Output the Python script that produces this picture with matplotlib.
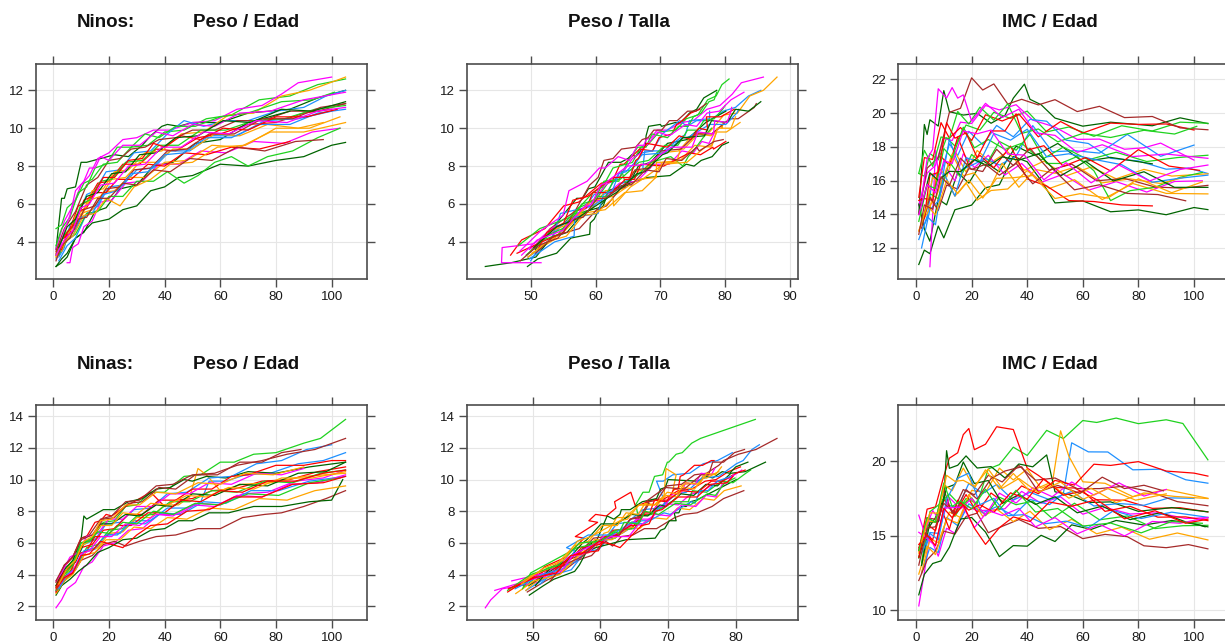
import numpy as np
import matplotlib
matplotlib.use("Agg")
import matplotlib.pyplot as plt

plt.rcParams['font.family'] = ['Liberation Sans', 'DejaVu Sans']

# colores de las curvas
VERDE = '#1fd21f'
MAGENTA = '#ff00ff'
AZUL = '#1e90ff'
ROJO = '#ff0000'
NARANJA = '#ffa500'
VERDE_OSC = '#006400'
MARRON = '#a52a2a'

# ---------------- Ninos: edad (semanas), peso (kg), talla (cm) ----------------
ninos_edad = [
    [1, 3, 4, 5, 8, 10, 12, 17, 22, 27, 32, 35, 39, 41, 45, 50, 60, 70, 85, 95, 105],
    [1, 3, 5, 8, 11, 14, 18, 23, 28, 34, 40, 47, 55, 64, 74, 85, 95, 105],
    [1, 4, 7, 10, 13, 16, 20, 25, 30, 36, 42, 50, 58, 66, 75, 82, 88, 100],
    [2, 4, 6, 9, 12, 15, 19, 24, 29, 35, 41, 47, 54, 62, 70, 80, 90, 98, 105],
    [1, 3, 6, 9, 12, 16, 20, 25, 31, 37, 44, 52, 60, 70, 80, 90, 100],
    [2, 5, 8, 11, 14, 18, 22, 27, 33, 39, 46, 54, 63, 72, 82, 92, 105],
    [1, 3, 5, 8, 10, 14, 20, 25, 30, 35, 40, 45, 50, 60, 70, 80, 90, 100, 105],
    [1, 4, 8, 12, 16, 20, 24, 28, 33, 38, 44, 50, 58, 66, 75, 85, 95, 105],
    [1, 3, 5, 8, 11, 15, 19, 24, 30, 36, 43, 51, 60, 70, 85],
    [5, 6, 7, 9, 11, 14, 17, 21, 26, 32, 38, 45, 53, 62, 72, 83, 93, 103],
    [2, 5, 8, 12, 16, 20, 25, 30, 36, 42, 49, 57, 66, 76, 88, 100],
    [1, 4, 7, 10, 14, 18, 22, 27, 33, 40, 48, 57, 67, 78, 90, 105],
    [2, 5, 8, 12, 16, 20, 25, 30, 36, 41, 47, 52, 58, 64, 70, 77, 86, 95, 103],
    [1, 3, 6, 9, 12, 15, 19, 23, 28, 34, 40, 47, 55, 64, 74, 85],
    [3, 6, 9, 13, 17, 21, 26, 31, 37, 43, 50, 58, 67, 77, 88, 97],
    [1, 4, 7, 10, 13, 17, 21, 26, 32, 38, 45, 53, 62, 72, 83, 94, 105],
    [2, 5, 8, 11, 15, 19, 24, 29, 35, 41, 48, 56, 65, 75, 86, 96, 105],
    [1, 3, 6, 9, 12, 15, 19, 23, 28, 33, 38, 44, 51, 60, 70, 82, 93, 101],
    [2, 4, 6, 8, 11, 13, 15, 17, 20, 25, 31, 37, 43, 50, 58, 67, 78, 90, 105],
    [1, 4, 7, 10, 14, 18, 23, 28, 34, 40, 47, 55, 64, 74, 85, 95, 105],
    [3, 5, 8, 11, 14, 18, 22, 27, 32, 36, 40, 46, 53, 61, 70, 80, 91, 102],
    [1, 4, 7, 11, 15, 19, 24, 29, 35, 42, 50, 59, 69, 80, 92, 103],
    [2, 5, 8, 12, 16, 21, 26, 31, 37, 44, 52, 61, 71, 82, 93, 105],
    [1, 3, 6, 9, 12, 16, 20, 25, 30, 36, 42, 49, 57, 66, 76, 87, 97],
    [1, 4, 7, 10, 13, 17, 22, 27, 33, 39, 46, 54, 63, 73, 84, 95, 105],
]
ninos_peso = [
    [3.6, 6.3, 6.3, 6.8, 6.9, 8.2, 8.2, 8.4, 8.6, 8.5, 9.1, 9.6, 10.1, 10.2, 10.1, 10.3, 10.3, 10.8, 11.0, 11.6, 12.0],
    [4.7, 4.9, 5.8, 6.2, 7.1, 7.3, 8.1, 8.2, 9.0, 9.1, 9.8, 9.9, 10.5, 10.7, 11.5, 11.7, 12.3, 12.6],
    [3.6, 5.1, 5.9, 7.0, 7.5, 8.4, 8.7, 9.4, 9.5, 9.9, 9.9, 10.3, 10.4, 11.0, 11.2, 11.8, 12.4, 12.7],
    [3.2, 3.7, 4.9, 5.4, 6.5, 6.7, 7.7, 7.8, 8.7, 8.8, 9.7, 10.4, 10.1, 10.4, 10.4, 10.9, 11.1, 11.7, 12.0],
    [3.3, 4.1, 4.7, 5.9, 6.1, 7.1, 7.2, 8.1, 8.1, 8.9, 8.8, 9.5, 9.7, 10.2, 10.3, 10.8, 11.0],
    [3.4, 4.1, 5.4, 5.7, 6.7, 6.8, 7.7, 7.8, 8.7, 8.8, 9.7, 9.8, 10.7, 10.8, 11.7, 12.0, 12.7],
    [2.7, 3.1, 3.4, 4.2, 4.4, 5.0, 5.2, 5.7, 5.9, 6.7, 6.9, 7.4, 7.5, 8.1, 8.0, 8.3, 8.5, 9.1, 9.25],
    [3.5, 4.7, 5.6, 7.0, 7.4, 8.3, 8.4, 8.9, 9.0, 9.4, 9.5, 9.9, 9.9, 10.4, 10.4, 10.9, 10.9, 11.3],
    [2.7, 2.9, 3.2, 4.2, 4.5, 5.6, 5.8, 6.8, 7.0, 8.0, 8.2, 9.2, 9.4, 10.3, 10.9],
    [2.9, 2.9, 3.7, 3.9, 4.8, 5.1, 6.1, 6.2, 7.1, 7.2, 8.1, 8.1, 8.8, 8.7, 9.3, 9.2, 9.8, 10.0],
    [3.0, 3.8, 4.2, 5.5, 5.9, 6.9, 7.0, 7.8, 7.9, 8.8, 8.8, 9.6, 9.6, 10.4, 10.5, 10.9],
    [3.2, 3.9, 4.5, 5.5, 5.7, 6.6, 6.7, 7.4, 7.4, 8.2, 8.3, 9.1, 9.0, 9.8, 9.8, 10.3],
    [3.3, 4.1, 4.4, 5.5, 5.6, 6.4, 6.4, 7.2, 7.2, 7.7, 7.1, 7.5, 8.2, 8.5, 8.0, 8.5, 8.8, 9.5, 10.0],
    [3.4, 4.1, 4.5, 5.6, 5.8, 6.6, 6.6, 7.3, 7.3, 8.1, 8.0, 8.7, 8.6, 9.0, 8.9, 9.3],
    [3.5, 4.6, 5.0, 6.2, 6.4, 7.3, 7.4, 8.2, 8.2, 8.9, 8.9, 9.7, 9.6, 10.2, 10.0, 10.3],
    [3.3, 4.4, 4.8, 6.0, 6.2, 7.2, 7.3, 8.2, 8.3, 9.1, 9.1, 9.9, 9.9, 10.4, 10.5, 11.0, 11.2],
    [3.4, 4.3, 4.7, 5.7, 5.9, 6.8, 6.9, 7.8, 7.9, 8.8, 8.9, 9.7, 9.7, 10.5, 10.5, 11.1, 11.3],
    [3.8, 4.7, 5.3, 6.6, 6.9, 7.9, 8.1, 9.0, 9.0, 9.7, 9.5, 10.1, 10.1, 10.6, 10.8, 11.4, 11.5, 11.9],
    [3.5, 4.6, 5.4, 6.7, 7.2, 7.9, 7.9, 8.5, 8.3, 9.1, 9.1, 9.8, 9.6, 10.2, 10.1, 10.8, 10.9, 11.5, 11.9],
    [3.1, 4.0, 4.3, 5.3, 5.5, 6.5, 6.7, 7.6, 7.7, 8.6, 8.7, 9.5, 9.5, 10.2, 10.2, 10.8, 11.0],
    [3.6, 4.5, 5.0, 6.2, 6.4, 7.4, 7.4, 8.3, 8.4, 9.2, 9.0, 9.6, 9.4, 10.0, 9.9, 10.6, 10.6, 11.0],
    [3.2, 4.0, 4.3, 5.4, 5.5, 6.3, 5.9, 6.9, 7.3, 8.1, 8.2, 9.0, 9.1, 10.0, 10.0, 10.6],
    [3.7, 4.8, 5.2, 6.4, 6.6, 7.6, 7.7, 8.6, 8.7, 9.5, 9.6, 10.4, 10.3, 11.0, 10.9, 11.4],
    [3.0, 3.8, 4.2, 5.2, 5.3, 6.3, 6.3, 7.1, 7.0, 7.8, 7.7, 8.4, 8.3, 9.0, 8.8, 9.3, 9.4],
    [3.3, 4.1, 4.6, 5.8, 6.0, 7.0, 7.1, 8.0, 8.1, 9.0, 9.0, 9.8, 9.7, 10.4, 10.3, 10.9, 11.1],
]
ninos_talla = [
    [50.7, 57.1, 58.0, 58.9, 59.9, 62.0, 63.9, 65.0, 65.6, 66.2, 67.7, 67.8, 68.2, 70.0, 70.2, 72.3, 73.2, 74.5, 75.6, 76.7, 78.7],
    [53.5, 54.9, 57.4, 60.0, 61.9, 63.6, 64.8, 65.7, 67.0, 68.0, 69.8, 72.4, 74.0, 75.8, 77.3, 78.6, 79.5, 80.6],
    [49.8, 55.7, 59.1, 61.5, 63.9, 65.7, 67.0, 67.8, 68.6, 69.5, 71.1, 73.3, 75.1, 77.2, 79.2, 81.1, 82.5, 85.9],
    [49.6, 51.9, 54.8, 57.4, 59.8, 61.9, 63.8, 65.6, 67.2, 68.8, 70.3, 73.0, 74.1, 75.6, 77.5, 79.7, 81.6, 83.6, 85.5],
    [46.9, 48.6, 52.2, 55.1, 57.4, 60.9, 62.6, 63.8, 64.4, 66.8, 68.8, 69.8, 71.8, 72.5, 73.0, 74.7, 76.1],
    [50.2, 53.5, 56.7, 59.3, 61.5, 64.2, 65.8, 67.6, 70.1, 72.8, 75.2, 77.6, 79.8, 81.9, 83.8, 85.9, 88.0],
    [49.5, 51.1, 54.0, 56.2, 59.1, 59.2, 59.8, 60.5, 61.2, 62.0, 63.5, 68.0, 71.5, 74.0, 75.2, 76.3, 78.0, 79.5, 80.5],
    [50.0, 53.0, 56.8, 59.1, 60.4, 61.3, 62.7, 64.0, 66.2, 67.2, 68.1, 69.0, 70.2, 71.4, 72.6, 74.2, 75.5, 77.1],
    [43.0, 47.0, 50.8, 53.1, 55.6, 58.3, 60.5, 62.9, 65.1, 66.6, 68.5, 71.1, 74.1, 77.0, 80.1],
    [51.6, 45.5, 45.6, 50.5, 53.6, 56.5, 58.9, 60.8, 63.7, 66.4, 69.0, 71.4, 73.3, 75.1, 76.4, 77.5, 78.4, 79.1],
    [50.0, 51.6, 53.3, 54.6, 59.6, 63.9, 63.6, 67.9, 67.3, 67.6, 70.5, 73.5, 73.8, 74.5, 77.6, 77.6],
    [49.6, 52.1, 55.0, 57.9, 61.5, 64.5, 67.2, 69.3, 69.1, 70.3, 73.1, 75.3, 77.8, 78.7, 80.2, 82.3],
    [49.4, 51.9, 54.3, 56.7, 58.8, 60.4, 61.6, 62.7, 63.6, 64.1, 64.6, 66.4, 68.6, 71.6, 73.5, 74.3, 75.1, 76.6, 77.9],
    [47.9, 52.4, 55.1, 56.7, 58.6, 59.6, 62.5, 64.6, 66.0, 67.0, 70.5, 74.5, 76.2, 78.1, 78.2, 80.1],
    [50.0, 53.3, 56.3, 59.4, 62.7, 66.6, 69.4, 69.4, 72.5, 73.1, 73.6, 75.9, 77.8, 79.6, 79.5, 79.7],
    [49.3, 52.9, 55.6, 57.9, 59.8, 61.3, 63.8, 66.7, 68.2, 70.7, 72.7, 74.2, 75.8, 76.7, 78.3, 79.6, 80.0],
    [50.8, 53.5, 57.5, 60.2, 61.7, 63.8, 64.6, 66.1, 68.4, 70.1, 73.2, 75.6, 77.9, 80.7, 82.0, 84.5, 84.8],
    [48.1, 51.4, 56.1, 59.6, 61.1, 62.7, 64.7, 66.5, 67.8, 68.7, 71.1, 72.8, 74.3, 75.1, 76.3, 77.5, 78.3, 78.7],
    [48.3, 51.6, 55.0, 55.9, 58.7, 60.6, 61.5, 63.5, 65.2, 66.5, 67.9, 69.6, 71.4, 73.9, 75.6, 77.2, 79.1, 80.9, 82.9],
    [49.8, 53.7, 56.7, 56.8, 60.4, 61.2, 62.6, 63.6, 64.7, 67.2, 70.7, 73.5, 74.2, 77.6, 80.1, 81.8, 82.1],
    [51.1, 52.5, 55.1, 56.5, 58.8, 62.7, 65.3, 66.2, 66.6, 67.9, 71.1, 72.9, 74.7, 75.9, 77.3, 77.1, 79.3, 81.4],
    [49.6, 52.5, 55.5, 58.1, 60.1, 62.7, 62.8, 65.4, 67.2, 70.5, 74.1, 76.9, 78.0, 78.8, 80.9, 81.6],
    [50.5, 54.0, 57.0, 62.2, 63.2, 66.4, 67.6, 70.3, 71.1, 73.5, 76.8, 77.9, 80.3, 81.6, 83.6, 85.5],
    [48.4, 51.1, 54.2, 56.6, 58.1, 60.3, 61.5, 64.7, 65.5, 67.7, 69.8, 70.9, 73.3, 75.6, 76.0, 78.3, 79.7],
    [48.6, 51.0, 54.9, 58.1, 59.4, 60.8, 61.5, 64.9, 67.9, 71.7, 74.9, 75.8, 78.2, 78.4, 80.3, 80.9, 81.0],
]
ninos_color = [VERDE_OSC, VERDE, MAGENTA, AZUL, ROJO, NARANJA, VERDE_OSC, MARRON,
               VERDE_OSC, MAGENTA, AZUL, NARANJA, VERDE, ROJO, NARANJA, VERDE,
               MARRON, VERDE, MAGENTA, AZUL, ROJO, NARANJA, VERDE_OSC, MARRON, MAGENTA]

# ---------------- Ninas ----------------
ninas_edad = [
    [1, 4, 7, 10, 14, 18, 22, 26, 30, 35, 40, 47, 53, 60, 65, 72, 80, 90, 96, 105],
    [1, 3, 5, 8, 11, 14, 18, 22, 27, 32, 38, 45, 52, 60, 68, 77, 87, 97, 105],
    [2, 5, 8, 11, 15, 19, 24, 29, 35, 41, 48, 53, 56, 62, 69, 78, 88, 97, 105],
    [1, 4, 7, 10, 12, 15, 17, 19, 21, 25, 29, 35, 40, 44, 50, 57, 65, 75, 85, 95, 105],
    [2, 5, 8, 12, 16, 20, 25, 30, 35, 40, 45, 49, 52, 55, 60, 68, 78, 90, 105],
    [1, 4, 7, 10, 11, 12, 15, 18, 22, 27, 32, 37, 42, 47, 50, 55, 62, 70, 80, 92, 105],
    [1, 4, 7, 10, 14, 18, 22, 26, 31, 37, 44, 52, 60, 68, 76, 82, 90, 98, 105],
    [1, 3, 6, 9, 12, 16, 20, 25, 30, 35, 40, 45, 50, 56, 63, 72, 82, 92, 100, 104],
    [2, 5, 8, 11, 15, 19, 24, 29, 35, 41, 48, 56, 64, 73, 82, 91, 100],
    [1, 4, 7, 10, 13, 17, 21, 26, 31, 37, 43, 50, 58, 66, 75, 84, 94, 105],
    [1, 4, 7, 10, 14, 18, 22, 27, 32, 38, 44, 50, 57, 64, 70, 80, 90, 100, 105],
    [1, 4, 7, 11, 15, 19, 24, 29, 35, 41, 48, 56, 65, 74, 84, 94, 105],
    [2, 5, 8, 12, 16, 20, 25, 30, 36, 42, 49, 57, 66, 76, 86, 96, 105],
    [1, 3, 6, 9, 12, 16, 20, 25, 30, 36, 42, 49, 56, 64, 73, 82, 90],
    [2, 5, 8, 11, 14, 17, 21, 26, 31, 37, 43, 50, 58, 67, 77, 88, 98, 105],
    [1, 4, 7, 10, 13, 17, 21, 25, 30, 35, 41, 48, 55, 63, 72, 82, 93, 105],
    [1, 3, 6, 9, 12, 15, 19, 23, 28, 34, 40, 46, 53, 60, 68, 77, 87, 97, 105],
    [2, 5, 8, 11, 15, 19, 23, 28, 33, 39, 46, 54, 62, 71, 81, 92, 105],
    [1, 4, 7, 10, 14, 18, 22, 27, 32, 38, 44, 51, 59, 67, 75, 82, 89],
    [1, 4, 7, 10, 13, 17, 21, 26, 31, 37, 43, 50, 58, 66, 75, 85, 95, 105],
    [1, 4, 7, 10, 13, 16, 20, 25, 30, 36, 43, 51, 60, 70, 81, 92, 103],
    [1, 4, 7, 10, 13, 17, 21, 25, 30, 35, 41, 48, 56, 65, 75, 86, 97, 105],
    [2, 5, 8, 11, 14, 17, 21, 26, 31, 37, 44, 52, 60, 69, 79, 90],
]
ninas_peso = [
    [3.2, 4.4, 4.8, 6.0, 6.3, 7.3, 7.4, 8.3, 8.4, 9.2, 9.2, 10.2, 10.3, 11.1, 11.1, 11.6, 11.7, 12.3, 12.6, 13.8],
    [1.9, 2.4, 3.1, 3.5, 4.5, 4.8, 5.8, 6.0, 6.8, 6.9, 7.8, 7.8, 8.5, 8.4, 9.1, 9.2, 9.9, 10.1, 10.6],
    [3.0, 3.9, 4.3, 5.4, 5.6, 6.5, 6.6, 7.4, 7.4, 8.2, 8.2, 8.6, 9.9, 9.9, 10.3, 10.4, 11.0, 11.2, 11.7],
    [3.3, 4.5, 5.1, 6.3, 6.4, 7.3, 7.4, 7.8, 7.7, 8.2, 8.6, 9.2, 8.3, 8.7, 8.8, 9.3, 9.4, 9.9, 10.0, 10.5, 10.8],
    [3.0, 3.9, 4.3, 5.5, 5.7, 6.6, 6.7, 7.6, 7.6, 8.4, 8.4, 8.9, 10.7, 10.3, 9.3, 9.7, 9.8, 10.2, 10.4],
    [3.3, 4.3, 4.9, 6.2, 7.7, 7.5, 7.8, 8.1, 8.1, 8.6, 8.8, 9.4, 9.5, 10.0, 9.9, 10.2, 10.1, 10.5, 10.4, 10.8, 11.1],
    [2.9, 3.6, 4.1, 4.9, 5.2, 5.9, 6.1, 5.8, 6.1, 6.4, 6.5, 6.9, 6.9, 7.6, 7.8, 7.9, 8.3, 8.8, 9.3],
    [2.7, 3.3, 3.7, 4.2, 4.6, 5.4, 5.7, 6.2, 6.3, 6.8, 6.9, 7.4, 7.4, 7.9, 7.9, 8.3, 8.3, 8.6, 8.7, 10.0],
    [3.4, 4.4, 4.8, 5.9, 6.2, 7.2, 7.3, 8.1, 8.2, 9.1, 9.2, 10.1, 10.2, 11.0, 11.2, 11.9, 12.2],
    [3.5, 4.6, 5.1, 6.3, 6.5, 7.5, 7.7, 8.6, 8.7, 9.6, 9.7, 10.3, 10.4, 10.9, 11.2, 11.6, 11.9, 12.6],
    [3.2, 4.2, 4.6, 5.7, 5.9, 6.8, 6.9, 7.8, 7.8, 8.7, 8.7, 9.4, 9.4, 10.2, 10.3, 10.9, 10.9, 11.2, 11.2],
    [2.8, 3.6, 4.0, 5.2, 5.4, 6.2, 6.2, 7.0, 6.9, 7.6, 7.5, 8.2, 8.1, 8.8, 8.7, 9.3, 9.6],
    [3.1, 4.1, 4.5, 5.7, 5.9, 6.8, 6.9, 7.7, 7.8, 8.6, 8.6, 9.3, 9.2, 9.9, 9.8, 10.4, 10.6],
    [3.6, 4.1, 5.1, 5.4, 6.4, 6.6, 7.5, 7.5, 8.3, 8.3, 9.1, 9.1, 9.8, 9.7, 10.4, 10.3, 10.7],
    [3.3, 4.4, 4.8, 6.0, 6.2, 7.2, 7.2, 7.8, 7.7, 8.4, 8.3, 9.1, 9.0, 9.7, 9.6, 10.4, 10.5, 11.1],
    [3.0, 4.0, 4.5, 5.8, 6.1, 7.1, 7.1, 7.9, 7.8, 8.5, 8.4, 9.0, 8.9, 9.5, 9.4, 10.1, 10.1, 10.5],
    [2.9, 3.7, 4.1, 5.3, 5.5, 6.4, 6.4, 7.1, 7.1, 7.9, 7.9, 8.7, 8.6, 9.3, 9.2, 9.9, 9.9, 10.4, 10.6],
    [3.1, 4.0, 4.4, 5.5, 5.7, 6.5, 6.5, 7.3, 7.2, 7.9, 7.8, 8.6, 8.5, 9.3, 9.3, 9.9, 10.2],
    [3.6, 4.6, 5.1, 6.2, 6.5, 7.5, 7.6, 8.5, 8.6, 9.5, 9.4, 10.3, 10.3, 11.1, 11.1, 11.7, 11.9],
    [3.0, 3.8, 4.2, 5.3, 5.5, 6.4, 6.4, 7.2, 7.1, 7.8, 7.7, 8.4, 8.3, 9.0, 8.9, 9.7, 9.8, 10.3],
    [3.0, 4.0, 4.6, 6.0, 6.1, 6.7, 6.6, 7.3, 7.2, 8.0, 7.8, 8.5, 8.4, 9.1, 9.0, 9.8, 10.1],
    [3.1, 3.8, 4.1, 5.2, 5.3, 6.1, 5.9, 5.7, 6.5, 7.1, 7.2, 8.0, 8.1, 8.9, 8.9, 9.7, 9.8, 10.2],
    [3.4, 4.4, 4.9, 6.1, 6.4, 7.4, 7.5, 8.4, 8.4, 9.2, 9.1, 9.8, 9.7, 10.4, 10.3, 10.8],
]
ninas_talla = [
    [48.7, 52.1, 55.0, 58.4, 62.2, 64.6, 65.7, 65.3, 65.2, 66.3, 67.2, 68.0, 69.2, 69.9, 70.1, 71.2, 72.1, 73.5, 74.8, 82.9],
    [43.0, 43.8, 45.5, 50.7, 53.9, 56.3, 58.4, 60.0, 63.8, 64.1, 65.9, 67.4, 69.5, 71.5, 73.4, 74.8, 77.4, 79.1, 80.9],
    [49.0, 52.4, 55.7, 57.7, 59.8, 61.6, 63.2, 66.1, 67.3, 68.6, 69.3, 69.5, 68.3, 69.3, 70.7, 73.2, 75.2, 77.3, 79.5],
    [48.6, 51.8, 54.9, 57.6, 56.3, 59.6, 58.3, 59.3, 60.9, 62.3, 62.1, 64.5, 65.2, 67.6, 69.5, 71.5, 73.5, 75.5, 77.1, 78.9, 80.7],
    [49.0, 51.4, 54.4, 57.6, 59.3, 60.5, 61.2, 62.4, 63.7, 65.7, 68.0, 69.4, 69.7, 71.2, 70.7, 72.4, 74.6, 75.1, 77.1],
    [49.4, 52.9, 55.0, 59.5, 61.0, 62.0, 62.9, 63.1, 64.4, 66.2, 68.3, 68.9, 69.6, 70.0, 74.3, 75.8, 76.6, 78.0, 79.1, 80.0, 81.8],
    [49.2, 51.9, 54.2, 56.6, 58.7, 60.2, 60.8, 61.8, 62.5, 63.1, 64.8, 66.5, 68.3, 71.0, 72.3, 74.3, 76.5, 78.2, 81.2],
    [49.5, 51.6, 53.1, 56.2, 56.9, 57.9, 59.3, 63.8, 68.1, 68.9, 69.5, 70.2, 71.2, 70.9, 71.6, 72.0, 72.7, 73.3, 74.2, 80.1],
    [51.1, 53.8, 56.3, 58.8, 60.6, 62.4, 64.0, 66.3, 68.7, 71.3, 72.7, 75.0, 77.5, 80.1, 81.1, 82.4, 83.5],
    [50.0, 53.3, 56.3, 59.0, 62.8, 64.4, 65.9, 67.2, 68.4, 69.8, 72.0, 73.9, 75.7, 77.5, 78.2, 80.4, 83.0, 86.1],
    [47.5, 51.6, 54.8, 57.2, 59.9, 61.9, 64.6, 66.1, 67.4, 68.9, 69.9, 70.9, 71.5, 71.8, 72.3, 73.9, 75.1, 76.4, 76.8],
    [47.5, 50.2, 54.0, 56.8, 58.4, 59.1, 61.7, 64.6, 65.8, 67.6, 69.8, 71.4, 73.2, 75.2, 76.8, 78.3, 80.8],
    [48.5, 49.7, 51.4, 56.6, 58.9, 62.3, 65.0, 66.2, 67.6, 70.5, 73.0, 73.6, 75.7, 77.9, 79.6, 81.5, 82.2],
    [46.9, 51.9, 55.3, 58.3, 60.4, 62.7, 65.5, 67.7, 68.2, 69.5, 70.7, 71.9, 72.6, 74.0, 74.9, 76.4, 76.9],
    [50.4, 52.6, 54.9, 57.4, 58.0, 60.1, 62.4, 64.6, 67.0, 68.8, 69.7, 71.9, 73.8, 75.6, 77.3, 79.3, 81.4, 84.4],
    [46.6, 50.0, 53.2, 56.1, 58.2, 60.3, 62.5, 63.8, 65.6, 66.6, 68.4, 69.7, 71.3, 72.3, 73.9, 75.2, 75.7, 77.5],
    [46.3, 49.3, 52.8, 56.1, 59.7, 60.7, 61.9, 64.5, 65.5, 66.5, 67.3, 68.0, 69.7, 71.9, 74.4, 76.4, 78.1, 80.0, 81.4],
    [47.4, 51.4, 54.7, 56.2, 55.0, 58.2, 61.7, 64.6, 66.4, 69.4, 70.3, 73.4, 74.0, 74.7, 75.9, 77.3, 79.3],
    [52.6, 54.5, 57.2, 60.1, 62.8, 64.4, 66.0, 67.2, 66.7, 69.6, 72.4, 74.9, 76.0, 76.6, 78.2, 79.8, 81.3],
    [44.4, 50.7, 54.2, 56.1, 57.1, 61.5, 64.2, 65.7, 65.9, 68.1, 70.3, 72.0, 74.1, 75.6, 77.1, 78.0, 78.7, 79.7],
    [46.3, 49.7, 53.8, 56.9, 60.0, 62.2, 62.7, 63.5, 65.6, 66.6, 68.6, 71.1, 73.3, 75.8, 77.0, 78.4, 79.9],
    [46.4, 50.3, 53.5, 55.6, 57.2, 59.8, 61.7, 62.9, 64.7, 66.1, 67.2, 68.1, 69.1, 71.5, 74.3, 76.3, 78.7, 79.6],
    [48.3, 51.6, 54.5, 56.6, 58.6, 62.9, 64.0, 65.7, 68.0, 69.9, 71.3, 72.6, 74.6, 75.7, 77.0, 77.9],
]
ninas_color = [VERDE, MAGENTA, AZUL, ROJO, NARANJA, VERDE_OSC, MARRON, VERDE_OSC,
               AZUL, MARRON, ROJO, NARANJA, VERDE, MAGENTA, VERDE_OSC, NARANJA,
               ROJO, AZUL, MARRON, MAGENTA, VERDE, ROJO, NARANJA]

# ---------------- figura ----------------
W, H = 1225, 644
fig = plt.figure(figsize=(W / 100, H / 100), dpi=100)

col_left = [35.7, 466.7, 898.3]
ancho = 331.0
filas = {'arriba': (64, 279), 'abajo': (405, 620)}

BOX = '#4d4d4d'


def panel(col, fila):
    top, bottom = filas[fila]
    rect = [col_left[col] / W, 1 - bottom / H, ancho / W, (bottom - top) / H]
    ax = fig.add_axes(rect)
    ax.tick_params(direction='out', length=5.5, width=1.0, color=BOX,
                   labelsize=9.5, pad=3, top=True, right=True,
                   labeltop=False, labelright=False, labelcolor='#1a1a1a')
    for s in ax.spines.values():
        s.set_color(BOX)
        s.set_linewidth(1.2)
    ax.grid(True, color='#e6e6e6', linewidth=0.8)
    ax.set_axisbelow(True)
    return ax


def dibujar(ax, xs, ys, colores):
    for x, y, c in zip(xs, ys, colores):
        ax.plot(x, y, color=c, linewidth=0.9, solid_joinstyle='round')


def imc(pesos, tallas):
    return [np.array(p) / (np.array(t) / 100.0) ** 2 for p, t in zip(pesos, tallas)]


grupos = [
    ('arriba', ninos_edad, ninos_peso, ninos_talla, ninos_color,
     (2.04, 13.39), [4, 6, 8, 10, 12], (40.13, 91.19), [50, 60, 70, 80, 90],
     (10.16, 22.91), [12, 14, 16, 18, 20, 22]),
    ('abajo', ninas_edad, ninas_peso, ninas_talla, ninas_color,
     (1.13, 14.71), [2, 4, 6, 8, 10, 12, 14], (40.25, 89.16), [50, 60, 70, 80],
     (9.33, 23.76), [10, 15, 20]),
]

for fila, edad, peso, talla, colores, ylp, ytp, xlt, xtt, yli, yti in grupos:
    # Peso / Edad
    ax = panel(0, fila)
    dibujar(ax, edad, peso, colores)
    ax.set_xlim(-6.3, 112.6)
    ax.set_xticks([0, 20, 40, 60, 80, 100])
    ax.set_ylim(*ylp)
    ax.set_yticks(ytp)

    # Peso / Talla
    ax = panel(1, fila)
    dibujar(ax, talla, peso, colores)
    ax.set_xlim(*xlt)
    ax.set_xticks(xtt)
    ax.set_ylim(*ylp)
    ax.set_yticks(ytp)

    # IMC / Edad
    ax = panel(2, fila)
    dibujar(ax, edad, imc(peso, talla), colores)
    ax.set_xlim(-6.37, 112.7)
    ax.set_xticks([0, 20, 40, 60, 80, 100])
    ax.set_ylim(*yli)
    ax.set_yticks(yti)

# titulos
tit = dict(fontsize=13.5, fontweight='bold', color='#111111', va='baseline')
for base, sexo in [(26.7, 'Ninos:'), (369.3, 'Ninas:')]:
    y = 1 - base / H
    fig.text(77 / W, y, sexo, ha='left', **tit)
    fig.text(246 / W, y, 'Peso / Edad', ha='center', **tit)
    fig.text(618.5 / W, y, 'Peso / Talla', ha='center', **tit)
    fig.text(1050 / W, y, 'IMC / Edad', ha='center', **tit)

fig.savefig('out.png', dpi=100)
